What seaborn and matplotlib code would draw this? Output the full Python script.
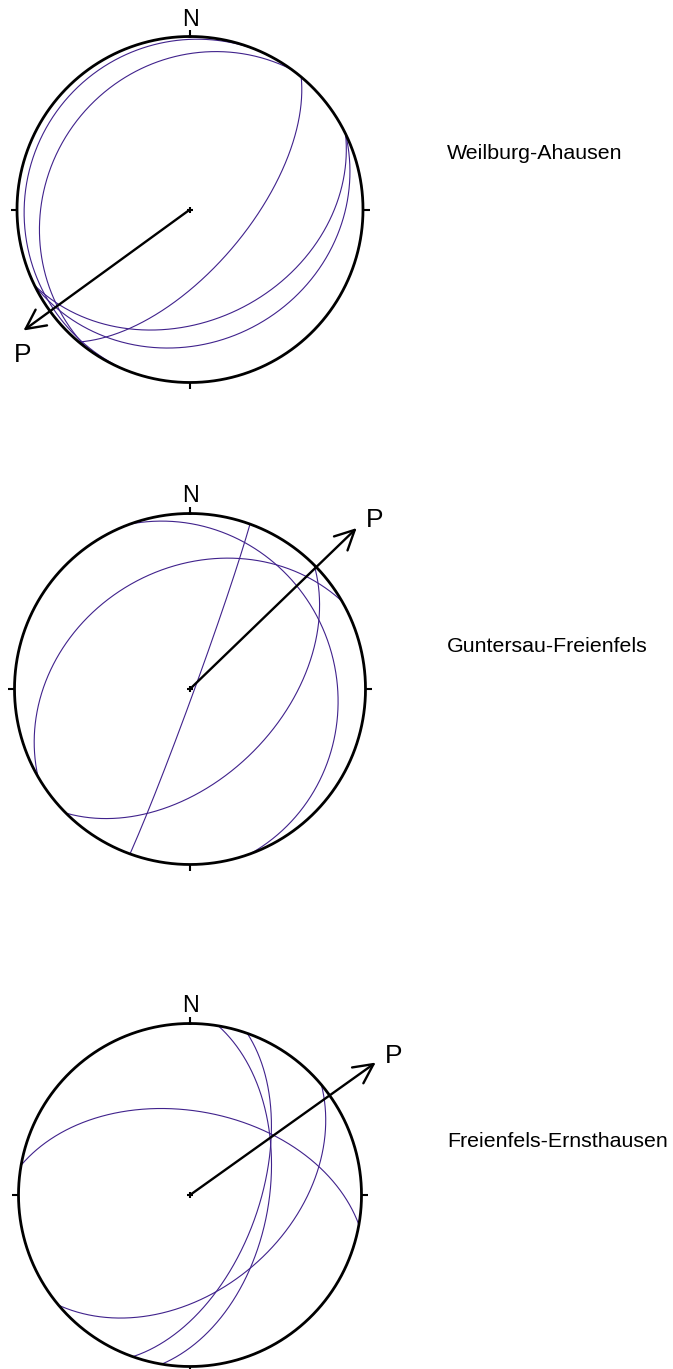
import numpy as np
import pandas as pd
import matplotlib
matplotlib.use("Agg")
import matplotlib.pyplot as plt
import seaborn as sns

sns.set_style("white")
plt.rcParams["font.family"] = ["Liberation Sans", "DejaVu Sans"]
plt.rcParams["text.color"] = "black"

# ---------------------------------------------------------------- data
station_names = ["Weilburg-Ahausen", "Guntersau-Freienfels", "Freienfels-Ernsthausen"]

# fault planes: strike (right-hand rule) and dip, degrees
weilburg_strike = [40, 64, 64, 202, 216]
weilburg_dip = [63, 36, 24, 5, 18]
guntersau_strike = [20, 340, 240, 45]
guntersau_dip = [88, 18, 32, 48]
freienfels_strike = [9.5, 19.5, 280, 50]
freienfels_dip = [52, 57, 49.5, 44]

plane_strikes = [weilburg_strike, guntersau_strike, freienfels_strike]
plane_dips = [weilburg_dip, guntersau_dip, freienfels_dip]

# P axis trend (degrees from N) and length of the drawn arrow (net radii)
p_trend = [234, 46, 54.5]
p_arrow_len = [1.19, 1.32, 1.33]

# ---------------------------------------------------------------- layout (px)
W, H, DPI = 673, 1369, 100
net_cx = [190, 190, 190]
net_cy = [209.5, 689, 1195]
net_r = [173, 175.5, 171.5]
half = 250
label_x = 447
label_baseline = [159.3, 651.7, 1146.7]
p_label_off = [(-0.5, 31), (17.7, -1), (17.5, 0)]  # from arrow tip, +x right, +y down

PURPLE = "#40228c"


def schmidt(trend, plunge):
    """Lower-hemisphere equal-area projection of a line."""
    r = np.sqrt(2) * np.sin(np.radians(90 - plunge) / 2)
    t = np.radians(trend)
    return r * np.sin(t), r * np.cos(t)


def great_circle(strike, dip, n=721):
    s, d = np.radians(strike), np.radians(dip)
    dd = s + np.pi / 2
    phi = np.linspace(0, np.pi, n)
    sv = np.array([np.sin(s), np.cos(s), 0.0])
    dv = np.array([np.sin(dd) * np.cos(d), np.cos(dd) * np.cos(d), np.sin(d)])
    v = np.outer(np.cos(phi), sv) + np.outer(np.sin(phi), dv)
    trend = np.degrees(np.arctan2(v[:, 0], v[:, 1]))
    plunge = np.degrees(np.arcsin(np.clip(v[:, 2], -1, 1)))
    return schmidt(trend, plunge)


fig = plt.figure(figsize=(W / DPI, H / DPI), dpi=DPI)

for k in range(3):
    cx, cy, R = net_cx[k], net_cy[k], net_r[k]
    ax = fig.add_axes([(cx - half) / W, (H - cy - half) / H, 2 * half / W, 2 * half / H])
    lim = half / R
    ax.set_xlim(-lim, lim)
    ax.set_ylim(-lim, lim)
    ax.axis("off")

    # great circles of the fault planes
    frames = []
    for i, (s, d) in enumerate(zip(plane_strikes[k], plane_dips[k])):
        x, y = great_circle(s, d)
        frames.append(pd.DataFrame({"x": x, "y": y, "plane": i}))
    df = pd.concat(frames, ignore_index=True)
    sns.lineplot(data=df, x="x", y="y", units="plane", estimator=None, sort=False,
                 color=PURPLE, linewidth=0.8, ax=ax, legend=False)

    # primitive circle, N/E/S/W ticks and centre cross
    t = np.linspace(0, 2 * np.pi, 721)
    ax.plot(np.sin(t), np.cos(t), color="black", lw=2.0)
    tick = 6.5 / R
    for az in (0, 90, 180, 270):
        a = np.radians(az)
        ax.plot([np.sin(a), (1 + tick) * np.sin(a)], [np.cos(a), (1 + tick) * np.cos(a)],
                color="black", lw=1.5, solid_capstyle="butt")
    ax.plot(0, 0, marker="+", color="black", ms=5, mew=1.5)

    # P axis arrow
    a = np.radians(p_trend[k])
    L = p_arrow_len[k]
    tip = (L * np.sin(a), L * np.cos(a))
    ax.annotate("", xy=tip, xytext=(0, 0),
                arrowprops=dict(arrowstyle="->,head_length=0.7,head_width=0.35",
                                lw=1.7, color="black", shrinkA=0, shrinkB=0,
                                mutation_scale=20),
                annotation_clip=False)
    dx, dy = p_label_off[k]
    ax.text(tip[0] + dx / R, tip[1] - dy / R, "P", ha="center", va="baseline",
            fontsize=19, color="black", clip_on=False)
    ax.text(0, 1 + 11 / R, "N", ha="center", va="baseline", fontsize=16.8,
            color="black", clip_on=False)

    fig.text(label_x / W, 1 - label_baseline[k] / H, station_names[k],
             ha="left", va="baseline", fontsize=15.4, color="black")

fig.savefig("out.png", dpi=DPI, facecolor="white")
